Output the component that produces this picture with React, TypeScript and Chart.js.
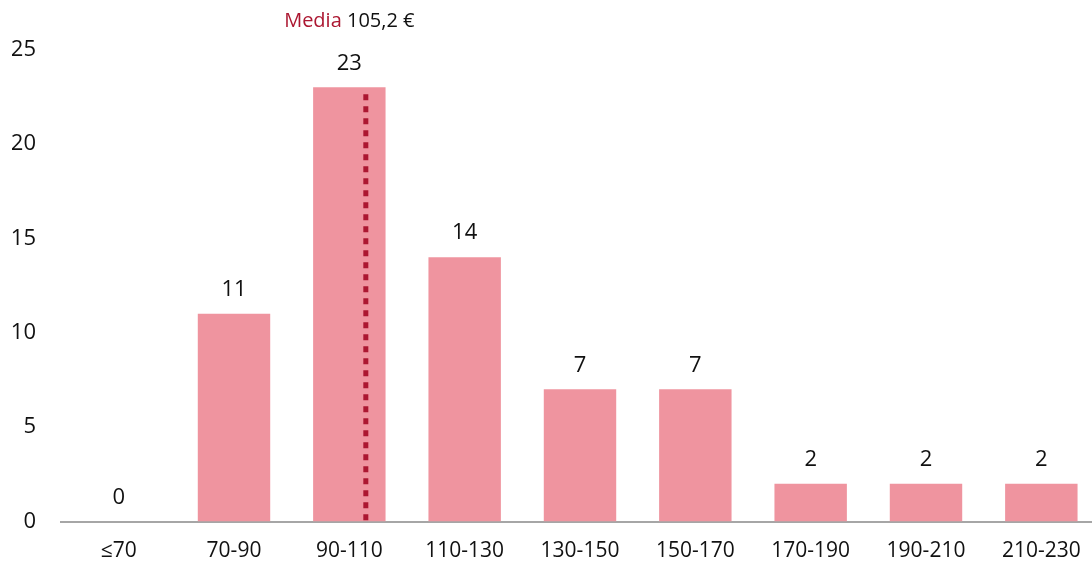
import React, { useEffect, useRef } from "react";
import { Chart, registerables } from "chart.js";

Chart.register(...registerables);

const categories = ["≤70", "70-90", "90-110", "110-130", "130-150", "150-170", "170-190", "190-210", "210-230"];
const counts = [0, 11, 23, 14, 7, 7, 2, 2, 2];
const yTicks = [0, 5, 10, 15, 20, 25];
const meanLabel = "Media";
const meanValueText = "105,2 €";
const meanCategoryIndex = 2; // bar containing the mean
const meanOffsetInCategory = 0.143; // offset of the mean line from that bar's centre, in category widths

const FONT = "'Open Sans', 'Noto Sans', sans-serif";
const BAR = "#EF949F";
const CRIMSON = "#AC1731";

const overlayPlugin = {
  id: "overlay",
  afterDatasetsDraw(chart: any) {
    const { ctx } = chart;
    const xs = chart.scales.x;
    const ys = chart.scales.y;
    const meta = chart.getDatasetMeta(0);
    ctx.save();
    // data labels
    ctx.font = `22px ${FONT}`;
    ctx.fillStyle = "#111";
    ctx.textAlign = "center";
    ctx.textBaseline = "middle";
    meta.data.forEach((el: any, i: number) => {
      ctx.fillText(String(counts[i]), el.x, el.y - 24);
    });
    // mean line
    const c0 = xs.getPixelForValue(meanCategoryIndex);
    const c1 = xs.getPixelForValue(meanCategoryIndex + 1);
    const mx = c0 + meanOffsetInCategory * (c1 - c0);
    const topY = ys.getPixelForValue(counts[meanCategoryIndex]) + 7;
    ctx.strokeStyle = CRIMSON;
    ctx.lineWidth = 5;
    ctx.setLineDash([6, 6]);
    ctx.beginPath();
    ctx.moveTo(mx, topY);
    ctx.lineTo(mx, ys.getPixelForValue(0) - 1);
    ctx.stroke();
    ctx.setLineDash([]);
    // mean label
    ctx.font = `20px ${FONT}`;
    ctx.textBaseline = "middle";
    ctx.textAlign = "left";
    const a = meanLabel + " ";
    const wa = ctx.measureText(a).width;
    const wb = ctx.measureText(meanValueText).width;
    const startX = c0 - (wa + wb) / 2;
    ctx.fillStyle = CRIMSON;
    ctx.fillText(a, startX, 21);
    ctx.fillStyle = "#111";
    ctx.fillText(meanValueText, startX + wa, 21);
    ctx.restore();
  },
};

export default function App() {
  const ref = useRef<HTMLCanvasElement>(null);
  useEffect(() => {
    if (!ref.current) return;
    const chart = new Chart(ref.current, {
      type: "bar",
      data: {
        labels: categories,
        datasets: [
          {
            data: counts,
            backgroundColor: BAR,
            borderWidth: 0,
            barPercentage: 0.628,
            categoryPercentage: 1,
          },
        ],
      },
      options: {
        animation: false,
        responsive: false,
        maintainAspectRatio: false,
        layout: { padding: { left: 12, right: 1, top: 49.5, bottom: 4 } },
        plugins: { legend: { display: false }, tooltip: { enabled: false } },
        scales: {
          x: {
            grid: { display: false, drawTicks: false },
            border: { display: true, color: "#A6A6A6", width: 2 },
            ticks: { color: "#111", font: { family: FONT, size: 21 }, padding: 17, maxRotation: 0, autoSkip: false },
            afterFit: (axis: any) => {
              axis.height = 41.5;
            },
          },
          y: {
            min: 0,
            max: 25,
            grid: { display: false, drawTicks: false },
            border: { display: false },
            afterBuildTicks: (axis: any) => {
              axis.ticks = yTicks.map((v) => ({ value: v }));
            },
            ticks: { color: "#111", font: { family: FONT, size: 22 }, padding: 25 },
            afterFit: (axis: any) => {
              axis.width = 49;
            },
          },
        },
      },
      plugins: [overlayPlugin],
    });
    return () => chart.destroy();
  }, []);
  return (
    <div style={{ position: "fixed", left: 0, top: 0, width: 1100, height: 567, background: "#fff" }}>
      <canvas ref={ref} width={1100} height={567} style={{ display: "block" }} />
    </div>
  );
}
